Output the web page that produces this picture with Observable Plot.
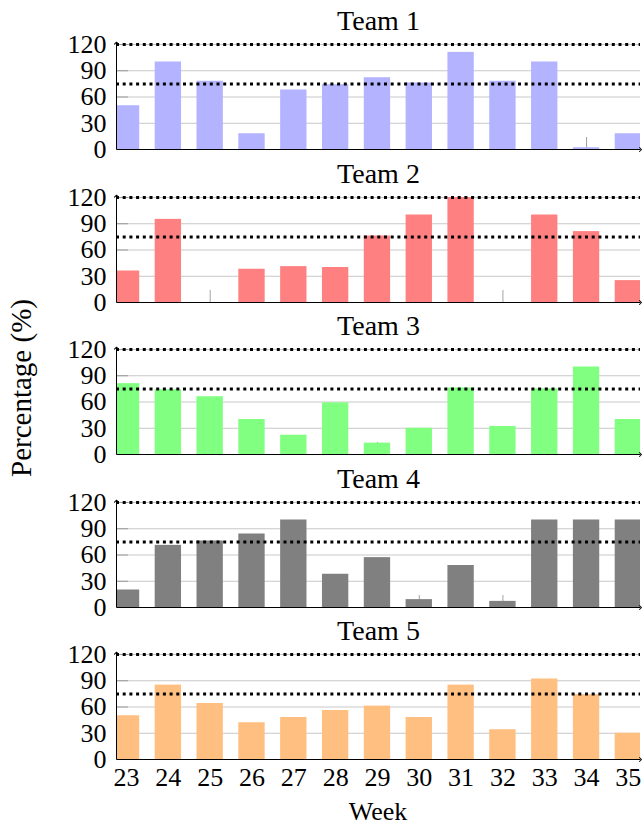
<!DOCTYPE html>
<html>
<head>
<meta charset="utf-8">
<script src="https://cdn.jsdelivr.net/npm/d3@7"></script>
<script src="https://cdn.jsdelivr.net/npm/@observablehq/plot@0.6"></script>
<style>
  body { margin: 0; background: #fff; }
  #chart { position: relative; width: 644px; height: 827px; font-family: 'Liberation Serif', 'Times New Roman', 'DejaVu Serif', serif; }
  #chart > svg { position: absolute; left: 0; }
  #chart text { font-family: 'Liberation Serif', 'Times New Roman', 'DejaVu Serif', serif; }
</style>
</head>
<body>
<div id="chart"></div>
<script>
const weeks = [23, 24, 25, 26, 27, 28, 29, 30, 31, 32, 33, 34, 35];
const teams = ["Team 1", "Team 2", "Team 3", "Team 4", "Team 5"];
const team1 = [50, 100, 78, 18, 68, 74, 82, 76, 111, 78, 100, 2, 18];
const team2 = [36, 95, 0, 38, 41, 40, 76, 100, 120, 0, 100, 81, 25];
const team3 = [81, 74, 66, 40, 22, 59, 13, 30, 76, 32, 75, 100, 40];
const team4 = [20, 71, 76, 84, 100, 38, 57, 9, 48, 7, 100, 100, 100];
const team5 = [50, 85, 64, 42, 48, 56, 61, 48, 85, 34, 92, 74, 30];
const colors = ["#b3b3ff", "#ff8080", "#80ff80", "#808080", "#ffbf80"];
const yTicks = [0, 30, 60, 90, 120];
const gridTicks = [30, 60, 90, 120];
const refLines = [75, 120];
const yLabel = "Percentage (%)";
const xLabel = "Week";

const xDomain = [22.76, 35.29];
const halfW = 0.315;
const font = "'Liberation Serif', 'Times New Roman', 'DejaVu Serif', serif";
const chart = document.getElementById("chart");
const series = [team1, team2, team3, team4, team5];

series.forEach((vals, i) => {
  const last = i === series.length - 1;
  const data = weeks.map((w, j) => ({week: w, value: vals[j]}));
  const svg = Plot.plot({
    width: 644,
    height: last ? 185 : 153,
    marginLeft: 116,
    marginRight: 4,
    marginTop: 44,
    marginBottom: last ? 36 : 4,
    style: {fontFamily: font, fontSize: "26px", background: "transparent", overflow: "visible"},
    x: {domain: xDomain, axis: null},
    y: {domain: [0, 120], axis: null},
    marks: [
      Plot.gridY(gridTicks, {stroke: "#c8c8c8", strokeOpacity: 1, strokeWidth: 1}),
      Plot.ruleX(weeks, {y1: 0, y2: 13.7, stroke: "#8a8a8a", strokeWidth: 0.8}),
      Plot.ruleY(gridTicks, {x1: xDomain[0], x2: xDomain[0] + 0.29, stroke: "#8a8a8a", strokeWidth: 0.8}),
      Plot.rectY(data, {x1: d => d.week - halfW, x2: d => d.week + halfW, y: "value", fill: colors[i], clip: true}),
      Plot.ruleY(refLines, {stroke: "black", strokeWidth: 3, strokeDasharray: "3,3.7"}),
      Plot.link([0], {x1: xDomain[0], x2: xDomain[1], y1: 0, y2: 0, stroke: "black", strokeWidth: 1, markerEnd: "arrow"}),
      Plot.link([0], {x1: xDomain[0], x2: xDomain[0], y1: 0, y2: 121.5, stroke: "black", strokeWidth: 1, markerEnd: "arrow"}),
      Plot.axisY(yTicks, {label: null, tickSize: 0, tickPadding: 10, fontSize: 26, fontFamily: font}),
      last ? Plot.axisX(weeks, {label: null, tickSize: 0, tickPadding: 8, fontSize: 26, fontFamily: font}) : null,
      Plot.text([teams[i]], {text: d => d, frameAnchor: "top", dy: -34, fontSize: 28, fontFamily: font, fill: "black"})
    ]
  });
  svg.style.top = Math.round(152.6 * i) + "px";
  chart.appendChild(svg);
});

const overlay = d3.select(chart).append("svg")
  .attr("width", 644).attr("height", 827)
  .style("top", "0px").style("pointer-events", "none")
  .style("font-family", font);
overlay.append("text")
  .attr("transform", "translate(31,388) rotate(-90)")
  .attr("text-anchor", "middle")
  .style("font-size", "29px")
  .text(yLabel);
overlay.append("text")
  .attr("x", 378).attr("y", 820)
  .attr("text-anchor", "middle")
  .style("font-size", "26px")
  .text(xLabel);
</script>
</body>
</html>
